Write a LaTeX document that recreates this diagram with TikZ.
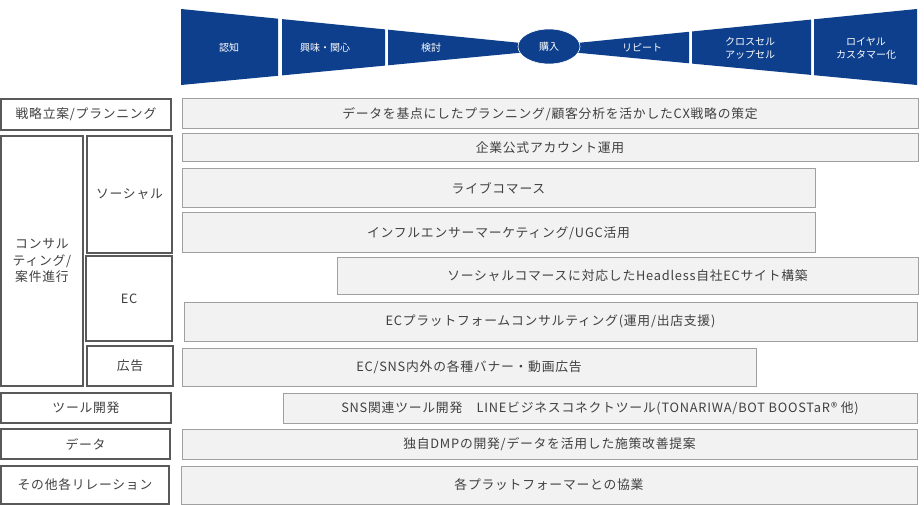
\documentclass[tikz,border=0pt]{standalone}
\usepackage{fontspec}
\setmainfont{Noto Sans CJK JP}
\newfontfamily\widefont[LetterSpace=6]{Noto Sans CJK JP}
\definecolor{funnelblue}{RGB}{14,63,140}
\definecolor{bargray}{RGB}{242,242,242}
\definecolor{barline}{RGB}{160,160,160}
\definecolor{boxline}{RGB}{89,89,89}
\definecolor{txtgray}{RGB}{64,64,64}

\begin{document}
\begin{tikzpicture}[x=1pt,y=-1pt,
  funnel/.style={fill=funnelblue},
  stage/.style={text=white,font=\fontsize{10}{13}\selectfont,align=center},
  bar/.style={draw=barline,fill=bargray,line width=1pt},
  catbox/.style={draw=boxline,fill=white,line width=1.8pt},
  bartext/.style={text=txtgray,font=\widefont\fontsize{12.8}{16}\selectfont,align=center},
  cattext/.style={text=txtgray,font=\widefont\fontsize{12.8}{16.5}\selectfont,align=center}]
  \useasboundingbox (0,0) rectangle (924,505);

  \fill[funnel] (181,9) -- (278,18.7) -- (278,75.8) -- (181,85) -- cycle;
  \fill[funnel] (282,19.1) -- (385,29.4) -- (385,65.6) -- (282,75.4) -- cycle;
  \fill[funnel] (388,29.7) -- (522,43.1) -- (522,52.6) -- (388,65.3) -- cycle;
  \fill[funnel] (576,43.1) -- (689,31.8) -- (689,63.3) -- (576,52.6) -- cycle;
  \fill[funnel] (692,31.5) -- (811,19.6) -- (811,74.9) -- (692,63.6) -- cycle;
  \fill[funnel] (814,19.3) -- (917,9) -- (917,85) -- (814,75.2) -- cycle;
  \draw[funnel,draw=white,line width=0.6pt] (549,46.5) ellipse (31 and 17.5);

  \node[stage] (ninchi) at (229,48) {認知};
  \node[stage] (kyomi) at (325,48) {興味・関心};
  \node[stage] (kento) at (431,48) {検討};
  \node[stage] (konyu) at (549,47) {購入};
  \node[stage] (repeat) at (642,48) {リピート};
  \node[stage] (cross) at (750,48) {クロスセル\\アップセル};
  \node[stage] (loyal) at (866,48) {ロイヤル\\カスタマー化};

  \draw[catbox] (1,99) rectangle (171,130) node[midway,cattext] (senryaku) {戦略立案/プランニング};
  \draw[catbox] (1,136) rectangle (83,386) node[midway,cattext] (consul) {コンサル\\ティング/\\案件進行};
  \draw[catbox] (87,136) rectangle (172,253) node[midway,cattext] (social) {ソーシャル};
  \draw[catbox] (86,256) rectangle (172,341) node[midway,cattext] (ec) {EC};
  \draw[catbox] (87,346) rectangle (173,386) node[midway,cattext] (kokoku) {広告};
  \draw[catbox] (1,393) rectangle (171,423) node[midway,cattext] (tool) {ツール開発};
  \draw[catbox] (1,429) rectangle (170,459) node[midway,cattext] (data) {データ};
  \draw[catbox] (1,466) rectangle (169,504) node[midway,cattext] (other) {その他各リレーション};

  \draw[bar] (182,99) rectangle (918,129) node[midway,bartext] (plan) {データを基点にしたプランニング/顧客分析を活かしたCX戦略の策定};
  \draw[bar] (182,134) rectangle (918,162) node[midway,bartext] (account) {企業公式アカウント運用};
  \draw[bar] (182,169) rectangle (815,208) node[midway,bartext] (live) {ライブコマース};
  \draw[bar] (182,213) rectangle (815,253) node[midway,bartext] (influ) {インフルエンサーマーケティング/UGC活用};
  \draw[bar] (337,258) rectangle (918,294) node[midway,bartext] (headless) {ソーシャルコマースに対応したHeadless自社ECサイト構築};
  \draw[bar] (184,302) rectangle (917,341) node[midway,bartext] (platform) {ECプラットフォームコンサルティング(運用/出店支援)};
  \draw[bar] (182,348) rectangle (756,386) node[midway,bartext] (banner) {EC/SNS内外の各種バナー・動画広告};
  \draw[bar] (283,393) rectangle (917,423) node[midway,bartext] (snstool) {SNS関連ツール開発　LINEビジネスコネクトツール(TONARIWA/BOT BOOSTaR® 他)};
  \draw[bar] (182,429) rectangle (917,459) node[midway,bartext] (dmp) {独自DMPの開発/データを活用した施策改善提案};
  \draw[bar] (181,466) rectangle (917,504) node[midway,bartext] (kyogyo) {各プラットフォーマーとの協業};
\end{tikzpicture}
\end{document}
